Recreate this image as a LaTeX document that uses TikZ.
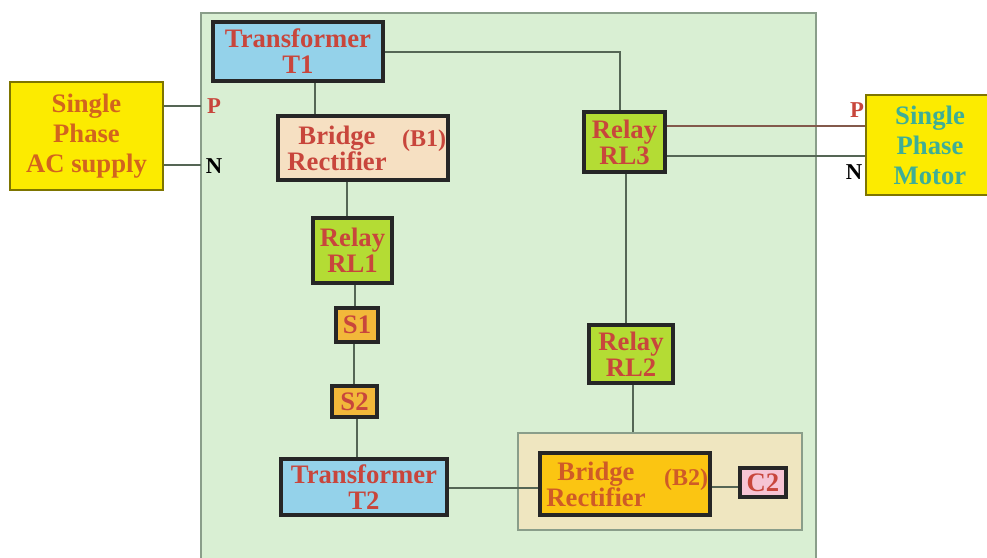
\documentclass[tikz,border=0pt]{standalone}
\usepackage{fontspec}
\setmainfont{Liberation Serif}
\definecolor{panel}{HTML}{D9EFD3}
\definecolor{panelline}{HTML}{8A9E8A}
\definecolor{wire}{HTML}{556655}
\definecolor{tblue}{HTML}{94D2EA}
\definecolor{peach}{HTML}{F6E0C2}
\definecolor{relayg}{HTML}{B4DC34}
\definecolor{sw}{HTML}{F2B83A}
\definecolor{grp}{HTML}{EFE6C0}
\definecolor{gold}{HTML}{FBC512}
\definecolor{pinkc}{HTML}{F6C4D4}
\definecolor{yel}{HTML}{FCEB00}
\definecolor{redtxt}{HTML}{C8463C}
\definecolor{orgtxt}{HTML}{D2641E}
\definecolor{grntxt}{HTML}{3EAE96}
\begin{document}
\begin{tikzpicture}[x=0.75pt,y=-0.75pt,
  sz/.style 2 args={minimum width={#1*0.75pt},minimum height={#2*0.75pt}},
  blk/.style={draw=black!85,line width=2.8pt,inner sep=0pt,
    font=\fontsize{20}{19.5}\selectfont\bfseries,text=redtxt,align=center},
  src/.style={draw=black!50!yel,line width=1pt,fill=yel,inner sep=0pt,
    font=\fontsize{20}{22.5}\selectfont\bfseries,align=center},
  wireln/.style={draw=wire,line width=1.4pt},
  inner/.style={font=\fontsize{20}{19.5}\selectfont\bfseries,text=redtxt,align=center,inner sep=0pt},
  lbl/.style={font=\fontsize{17}{17}\selectfont\bfseries,inner sep=0pt}]
\clip (0,0) rectangle (987,557);
\fill[white] (0,0) rectangle (987,557);
% main panel
\draw[fill=panel,draw=panelline,line width=2pt] (201,13) rectangle (816,570);
% group box
\node[draw=panelline,fill=grp,line width=2pt,sz={284}{97}] (grp) at (660,481.5) {};
% sources
\node[src,text=orgtxt,sz={153}{108}] (ac) at (86.5,136) {Single\\Phase\\AC supply};
\node[src,text=grntxt,sz={128}{100}] (mot) at (930,145) {Single\\Phase\\Motor};
% blocks
\node[blk,fill=tblue,sz={170}{59}] (t1) at (298,51.5) {Transformer\\T1};
\node[blk,fill=peach,sz={170}{64}] (b1) at (363,148) {};
\node[blk,fill=relayg,sz={79}{65}] (rl1) at (352.5,250.5) {Relay\\RL1};
\node[blk,fill=sw,sz={42}{34}] (s1) at (357,325) {S1};
\node[blk,fill=sw,sz={45}{31}] (s2) at (354.5,401.5) {S2};
\node[blk,fill=tblue,sz={166}{56}] (t2) at (364,487) {Transformer\\T2};
\node[blk,fill=gold,sz={170}{62}] (b2) at (625,484) {};
\node[blk,fill=pinkc,sz={46}{29},line width=2.3pt] (c2) at (763,482.5) {C2};
\node[blk,fill=relayg,sz={84}{58}] (rl2) at (631,354) {Relay\\RL2};
\node[blk,fill=relayg,sz={81}{60}] (rl3) at (624.5,142) {Relay\\RL3};
% texts inside bridge rectifiers
\node[inner] (b1t) at (337,148) {Bridge\\Rectifier};
\node[inner,font=\fontsize{18}{18}\selectfont\bfseries] (b1n) at (424,141) {(B1)};
\node[inner,text=orgtxt!70!redtxt] (b2t) at (596,484) {Bridge\\Rectifier};
\node[inner,font=\fontsize{18}{18}\selectfont\bfseries,text=orgtxt!70!redtxt] (b2n) at (686,480) {(B2)};
% P / N labels
\node[lbl,text=redtxt] (pl) at (214,106) {P};
\node[lbl,text=black] (nl) at (214,166) {N};
\node[lbl,text=redtxt] (pr) at (857,110) {P};
\node[lbl,text=black] (nr) at (854,172) {N};
% connectors
\draw[wireln] (ac.east |- 0,106) -- (201,106);
\draw[wireln] (ac.east |- 0,165) -- (201,165);
\draw[wireln] (t1.south -| 315,0) -- (b1.north -| 315,0);
\draw[wireln] (b1.south -| 347,0) -- (rl1.north -| 347,0);
\draw[wireln] (rl1.south -| 355,0) -- (s1.north -| 355,0);
\draw[wireln] (s1.south -| 354,0) -- (s2.north -| 354,0);
\draw[wireln] (s2.south -| 357,0) -- (t2.north -| 357,0);
\draw[wireln] (t2.east |- 0,488) -- (b2.west |- 0,488);
\draw[wireln] (b2.east |- 0,487) -- (c2.west |- 0,487);
\draw[wireln] (t1.east |- 0,52) -| (rl3.north -| 620,0);
\draw[wireln] (rl3.south -| 626,0) -- (rl2.north -| 626,0);
\draw[wireln] (rl2.south -| 633,0) -- (grp.north -| 633,0);
\draw[draw=wire!60!redtxt,line width=1.4pt] (rl3.east |- 0,126) -- (mot.west |- 0,126);
\draw[wireln] (rl3.east |- 0,156) -- (mot.west |- 0,156);
\end{tikzpicture}
\end{document}
